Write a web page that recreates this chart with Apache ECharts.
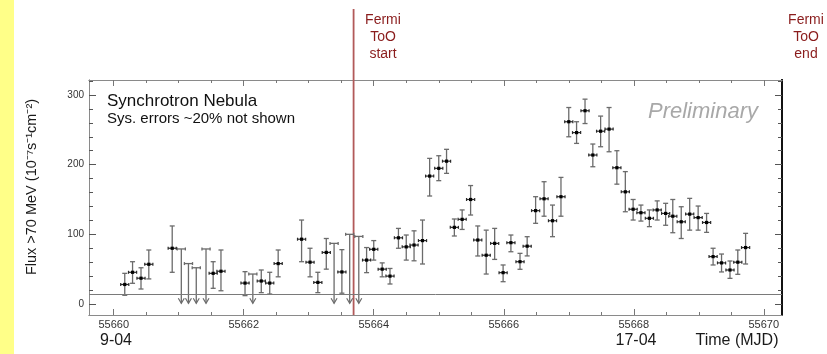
<!DOCTYPE html>
<html>
<head>
<meta charset="utf-8">
<title>Synchrotron Nebula light curve</title>
<script src="https://cdn.jsdelivr.net/npm/echarts@6/dist/echarts.min.js"></script>
<style>
  html, body { margin: 0; padding: 0; background: #ffffff; }
  #chart { width: 827px; height: 354px; }
</style>
</head>
<body>
<div id="chart"></div>
<script>
// Flux points (MJD bin centre, flux, lower and upper 1-sigma edge), units 1e-7 ph s^-1 cm^-2
const mjd = [
  55660.17, 55660.29, 55660.42, 55660.54, 55660.90, 55661.53, 55661.65, 55662.02,
  55662.27, 55662.40, 55662.53, 55662.89, 55663.02, 55663.14, 55663.27, 55663.51,
  55663.89, 55664.00, 55664.13, 55664.25, 55664.38, 55664.50, 55664.62, 55664.75,
  55664.86, 55665.00, 55665.12, 55665.24, 55665.36, 55665.49, 55665.60, 55665.73,
  55665.86, 55665.99, 55666.11, 55666.25, 55666.36, 55666.49, 55666.62, 55666.75,
  55666.88, 55667.00, 55667.12, 55667.25, 55667.37, 55667.49, 55667.62, 55667.74,
  55667.87, 55667.99, 55668.11, 55668.24, 55668.36, 55668.49, 55668.60, 55668.73,
  55668.86, 55668.99, 55669.12, 55669.22, 55669.35, 55669.48, 55669.60, 55669.72
];
const flux = [
  28, 45.5, 37, 57, 80, 44, 47, 30,
  33, 30, 58, 93, 60, 31, 74, 46,
  63, 78.5, 50, 40, 95, 82, 84.6, 91,
  183.6, 194.7, 205, 110, 121.5, 150, 91.8, 70,
  87, 45, 88, 60.7, 83, 134, 151, 119.5,
  154, 261.6, 246, 277.4, 213.8, 248, 251, 195.6,
  161, 136, 131, 123, 135, 130, 126, 118,
  129, 124, 117, 68, 59, 48.8, 60, 81
];
const fluxLow = [
  12.5, 29.7, 21.5, 36, 45.5, 22.5, 19, 12,
  16.3, 14.3, 39, 60.7, 39, 16.3, 50, 15.5,
  45, 63, 39, 28.7, 80, 63, 62, 57.4,
  155, 177, 187.5, 97.6, 107, 127.7, 68.9, 43,
  64, 32, 75, 49.8, 69, 115.8, 126, 96.6,
  126, 240, 230.5, 259, 197, 225.7, 218.5, 172,
  132.4, 120.5, 119, 111, 120.5, 113, 102.3, 94,
  106, 106, 102.8, 56, 46, 36.8, 42.6, 57.4
];
const fluxHigh = [
  44, 60.7, 52, 77.5, 112, 60.7, 77.5, 46.4,
  48.8, 45.5, 77.5, 120.5, 80, 45.5, 94, 78,
  81, 91, 59, 51, 108.5, 99, 105, 120.5,
  209, 212.8, 222, 122, 135, 170, 112, 106,
  108.5, 56, 99, 72.7, 96.6, 154, 175.5, 142,
  181.7, 282, 261.6, 294, 229.6, 269.7, 282, 220,
  190, 150, 142, 135, 148, 144.5, 150, 139.6,
  151.6, 140.6, 130, 80, 71.7, 61.7, 77.5, 101.4
];

// Upper limits
const ulMjd  = [55661.04, 55661.15, 55661.27, 55661.42, 55662.14, 55663.39, 55663.63, 55663.77];
const ulFlux = [79, 58, 52, 79, 43, 87, 100, 97];

// Half width of a time bin (days)
const binHalf = 0.0625;
// Steady nebula level
const nebulaLevel = 14.5;
// Fermi ToO start (MJD)
const tooStart = 55663.69;

// Axis ranges and ticks
const xMin = 55659.62, xMax = 55670.28;
const yMin = -15.8, yMax = 321.5;
const xLabels = [55660, 55662, 55664, 55666, 55668, 55670];
const xMinorTicks = [];
for (let v = 55660; v <= 55670.001; v += 0.5) xMinorTicks.push(+v.toFixed(1));
const yLabels = [0, 100, 200, 300];
const yMinorTicks = [];
for (let v = 0; v <= 320; v += 20) yMinorTicks.push(v);

const FONT = '"Liberation Sans", Arial, sans-serif';
const FRAME = '#8a8a8a';

const pointData = mjd.map((t, i) => [t, flux[i], fluxLow[i], fluxHigh[i]]);
const ulData = ulMjd.map((t, i) => [t, ulFlux[i]]);

function renderPoint(params, api) {
  const x = api.value(0), y = api.value(1);
  const c = api.coord([x, y]);
  const l = api.coord([x - binHalf, y]);
  const r = api.coord([x + binHalf, y]);
  const top = api.coord([x, api.value(3)]);
  const bot = api.coord([x, api.value(2)]);
  const vs = { stroke: '#6b6b6b', lineWidth: 1.3 };
  const hs = { stroke: '#2a2a2a', lineWidth: 1.2 };
  return {
    type: 'group',
    children: [
      { type: 'line', shape: { x1: c[0], y1: top[1], x2: c[0], y2: bot[1] }, style: vs },
      { type: 'line', shape: { x1: c[0] - 2.5, y1: top[1], x2: c[0] + 2.5, y2: top[1] }, style: vs },
      { type: 'line', shape: { x1: c[0] - 2.5, y1: bot[1], x2: c[0] + 2.5, y2: bot[1] }, style: vs },
      { type: 'line', shape: { x1: l[0], y1: c[1], x2: r[0], y2: c[1] }, style: hs },
      { type: 'line', shape: { x1: l[0], y1: c[1] - 1.5, x2: l[0], y2: c[1] + 1.5 }, style: hs },
      { type: 'line', shape: { x1: r[0], y1: c[1] - 1.5, x2: r[0], y2: c[1] + 1.5 }, style: hs },
      { type: 'rect', shape: { x: c[0] - 1.6, y: c[1] - 1.6, width: 3.2, height: 3.2 }, style: { fill: '#000' } }
    ]
  };
}

function renderUpperLimit(params, api) {
  const x = api.value(0), y = api.value(1);
  const t = api.coord([x, y]);
  const l = api.coord([x - binHalf, y]);
  const r = api.coord([x + binHalf, y]);
  const tip = api.coord([x, 1]);
  const s = { stroke: '#6b6b6b', lineWidth: 1.3 };
  return {
    type: 'group',
    children: [
      { type: 'line', shape: { x1: t[0], y1: t[1], x2: t[0], y2: tip[1] }, style: s },
      { type: 'line', shape: { x1: l[0], y1: t[1], x2: r[0], y2: t[1] }, style: s },
      { type: 'line', shape: { x1: l[0], y1: t[1] - 1.5, x2: l[0], y2: t[1] + 1.5 }, style: s },
      { type: 'line', shape: { x1: r[0], y1: t[1] - 1.5, x2: r[0], y2: t[1] + 1.5 }, style: s },
      { type: 'polyline', shape: { points: [[t[0] - 3, tip[1] - 5], [t[0], tip[1]], [t[0] + 3, tip[1] - 5]] }, style: { stroke: '#6b6b6b', lineWidth: 1.2, fill: null } }
    ]
  };
}

function renderToo(params, api) {
  const x = api.value(0);
  const bottom = api.coord([x, yMin]);
  return {
    type: 'line',
    shape: { x1: bottom[0], y1: params.coordSys.y - 71, x2: bottom[0], y2: bottom[1] },
    style: { stroke: '#b25a5a', lineWidth: 1.8 }
  };
}

function xAxisDef(pos, ticks, len, labels) {
  return {
    type: 'value', position: pos, min: xMin, max: xMax,
    axisLine: { show: true, onZero: false, lineStyle: { color: FRAME, width: 1 } },
    axisTick: { show: true, inside: true, length: len, customValues: ticks, lineStyle: { color: '#777' } },
    axisLabel: labels
      ? { show: true, customValues: labels, fontSize: 11, color: '#333', margin: 4, fontFamily: FONT, formatter: v => String(v) }
      : { show: false },
    splitLine: { show: false }
  };
}
function yAxisDef(pos, ticks, len, labels, lineStyle) {
  return {
    type: 'value', position: pos, min: yMin, max: yMax,
    axisLine: { show: true, onZero: false, lineStyle: lineStyle },
    axisTick: { show: true, inside: true, length: len, customValues: ticks, lineStyle: { color: '#555' } },
    axisLabel: labels
      ? { show: true, customValues: labels, fontSize: 10, color: '#333', margin: 5, fontFamily: FONT }
      : { show: false },
    splitLine: { show: false }
  };
}

const chart = echarts.init(document.getElementById('chart'), null, { renderer: 'canvas' });
chart.setOption({
  animation: false,
  backgroundColor: '#ffffff',
  grid: { left: 89, right: 45, top: 80, bottom: 39, containLabel: false },
  xAxis: [
    xAxisDef('bottom', xLabels, 6, xLabels),
    xAxisDef('bottom', xMinorTicks, 3, null),
    xAxisDef('top', xLabels, 6, null),
    xAxisDef('top', xMinorTicks, 3, null)
  ],
  yAxis: [
    yAxisDef('left', yLabels, 7, yLabels, { color: FRAME, width: 1 }),
    yAxisDef('left', yMinorTicks, 4, null, { color: FRAME, width: 1 }),
    yAxisDef('right', yLabels, 7, null, { color: '#111', width: 2 }),
    yAxisDef('right', yMinorTicks, 4, null, { color: '#111', width: 2 })
  ],
  graphic: [
    { type: 'rect', z: -10, shape: { x: 0, y: 0, width: 14, height: 354 }, style: { fill: '#ffff88' } },
    { type: 'text', x: 32, y: 187, rotation: Math.PI / 2,
      style: { text: 'Flux >70 MeV (10⁻⁷s⁻¹cm⁻²)', font: '14.5px ' + FONT, fill: '#1a1a1a', align: 'center', verticalAlign: 'middle' } },
    { type: 'text', x: 107, y: 101,
      style: { text: 'Synchrotron Nebula', font: '17px ' + FONT, fill: '#111', verticalAlign: 'middle' } },
    { type: 'text', x: 107, y: 119,
      style: { text: 'Sys. errors ~20% not shown', font: '15px ' + FONT, fill: '#111', verticalAlign: 'middle' } },
    { type: 'text', x: 758, y: 112,
      style: { text: 'Preliminary', font: 'italic 22px ' + FONT, fill: '#a8a8a8', align: 'right', verticalAlign: 'middle' } },
    { type: 'text', x: 383, y: 12,
      style: { text: 'Fermi\nToO\nstart', font: '14px ' + FONT, lineHeight: 17, fill: '#8a1c1c', align: 'center', verticalAlign: 'top' } },
    { type: 'text', x: 806, y: 12,
      style: { text: 'Fermi\nToO\nend', font: '14px ' + FONT, lineHeight: 17, fill: '#8a1c1c', align: 'center', verticalAlign: 'top' } },
    { type: 'text', x: 116, y: 341,
      style: { text: '9-04', font: '16px ' + FONT, fill: '#1a1a1a', align: 'center', verticalAlign: 'middle' } },
    { type: 'text', x: 636, y: 341,
      style: { text: '17-04', font: '16px ' + FONT, fill: '#1a1a1a', align: 'center', verticalAlign: 'middle' } },
    { type: 'text', x: 737, y: 341,
      style: { text: 'Time (MJD)', font: '16px ' + FONT, fill: '#1a1a1a', align: 'center', verticalAlign: 'middle' } }
  ],
  series: [
    {
      type: 'custom', name: 'level', xAxisIndex: 0, yAxisIndex: 0,
      data: [], renderItem: () => null,
      markLine: {
        silent: true, symbol: 'none', animation: false,
        label: { show: false },
        lineStyle: { color: '#7a7a7a', width: 1, type: 'solid' },
        data: [{ yAxis: nebulaLevel }]
      }
    },
    {
      type: 'custom', name: 'ToO', xAxisIndex: 0, yAxisIndex: 0, clip: false, z: 1,
      data: [[tooStart]], encode: { x: 0 }, renderItem: renderToo
    },
    {
      type: 'custom', name: 'upper limits', xAxisIndex: 0, yAxisIndex: 0, z: 2,
      data: ulData, encode: { x: 0, y: 1 }, renderItem: renderUpperLimit
    },
    {
      type: 'custom', name: 'flux', xAxisIndex: 0, yAxisIndex: 0, z: 3,
      data: pointData, encode: { x: 0, y: [1, 2, 3] }, renderItem: renderPoint
    }
  ]
});
</script>
</body>
</html>
